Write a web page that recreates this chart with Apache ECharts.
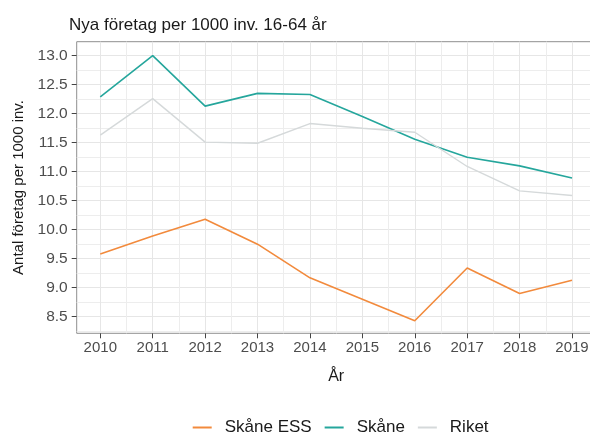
<!DOCTYPE html>
<html>
<head>
<meta charset="utf-8">
<script src="https://cdn.jsdelivr.net/npm/echarts@6/dist/echarts.min.js"></script>
<style>
  html, body { margin: 0; padding: 0; background: #fff; }
  #chart { width: 590px; height: 439px; }
</style>
</head>
<body>
<div id="chart"></div>
<script>
const years = [2010, 2011, 2012, 2013, 2014, 2015, 2016, 2017, 2018, 2019];
const skaneEss = [9.58, 9.89, 10.18, 9.75, 9.17, 8.80, 8.43, 9.34, 8.90, 9.13];
const skane = [12.29, 13.00, 12.13, 12.35, 12.33, 11.95, 11.56, 11.25, 11.10, 10.89];
const riket = [11.63, 12.26, 11.51, 11.49, 11.83, 11.75, 11.68, 11.09, 10.67, 10.59];
const yTicks = [8.5, 9.0, 9.5, 10.0, 10.5, 11.0, 11.5, 12.0, 12.5, 13.0];

const font = 'Liberation Sans, Arial, sans-serif';
const chart = echarts.init(document.getElementById('chart'), null, { renderer: 'canvas' });

function pairs(vals) {
  return years.map(function (y, i) { return [y, vals[i]]; });
}

var option = {
  animation: false,
  backgroundColor: '#ffffff',
  title: {
    text: 'Nya företag per 1000 inv. 16-64 år',
    left: 64,
    top: 12,
    textStyle: {
      fontFamily: font,
      fontSize: 17,
      fontWeight: 'normal',
      color: '#1a1a1a'
    }
  },
  legend: {
    left: 192.7,
    top: 419,
    padding: 0,
    icon: 'rect',
    itemWidth: 19,
    itemHeight: 2,
    itemGap: 13,
    textStyle: {
      fontFamily: font,
      fontSize: 17,
      color: '#1a1a1a',
      padding: [0, 0, 0, 8]
    },
    data: ['Skåne ESS', 'Skåne', 'Riket']
  },
  grid: {
    left: 76.7,
    top: 41.7,
    width: 518.9,
    height: 291.6,
    show: true,
    backgroundColor: '#ffffff',
    borderColor: '#8f8f8f',
    borderWidth: 1,
    outerBoundsMode: 'none'
  },
  xAxis: {
    type: 'value',
    min: 2009.55,
    max: 2019.45,
    minInterval: 1,
    maxInterval: 1,
    splitNumber: 10,
    name: 'År',
    nameLocation: 'middle',
    nameGap: 35,
    nameTextStyle: { fontFamily: font, fontSize: 16, color: '#1a1a1a' },
    axisLine: { show: false },
    axisTick: {
      show: true,
      length: 5,
      customValues: years,
      lineStyle: { color: '#444' }
    },
    axisLabel: {
      customValues: years,
      fontFamily: font,
      fontSize: 15,
      color: '#4d4d4d',
      margin: 7,
      formatter: function (v) { return String(v); }
    },
    splitLine: { show: true, lineStyle: { color: '#e6e6e6', width: 1 } },
    minorTick: { show: false, splitNumber: 2 },
    minorSplitLine: { show: true, lineStyle: { color: '#ededed', width: 1 } }
  },
  yAxis: {
    type: 'value',
    min: 8.214,
    max: 13.241,
    minInterval: 0.5,
    maxInterval: 0.5,
    splitNumber: 10,
    name: 'Antal företag per 1000 inv.',
    nameLocation: 'middle',
    nameGap: 48,
    nameTextStyle: { fontFamily: font, fontSize: 15, color: '#1a1a1a' },
    axisLine: { show: false },
    axisTick: {
      show: true,
      length: 5,
      customValues: yTicks,
      lineStyle: { color: '#444' }
    },
    axisLabel: {
      customValues: yTicks,
      fontFamily: font,
      fontSize: 15.5,
      color: '#4d4d4d',
      margin: 9,
      formatter: function (v) { return v.toFixed(1); }
    },
    splitLine: { show: true, lineStyle: { color: '#e6e6e6', width: 1 } },
    minorTick: { show: false, splitNumber: 2 },
    minorSplitLine: { show: true, lineStyle: { color: '#ededed', width: 1 } }
  },
  series: [
    {
      name: 'Skåne ESS',
      type: 'line',
      data: pairs(skaneEss),
      symbol: 'none',
      color: '#f28a3c',
      lineStyle: { color: '#f28a3c', width: 1.6 }
    },
    {
      name: 'Skåne',
      type: 'line',
      data: pairs(skane),
      symbol: 'none',
      color: '#25a69c',
      lineStyle: { color: '#25a69c', width: 1.6 }
    },
    {
      name: 'Riket',
      type: 'line',
      data: pairs(riket),
      symbol: 'none',
      color: '#d5d9da',
      lineStyle: { color: '#d5d9da', width: 1.4 }
    }
  ]
};
chart.setOption(option);
</script>
</body>
</html>
